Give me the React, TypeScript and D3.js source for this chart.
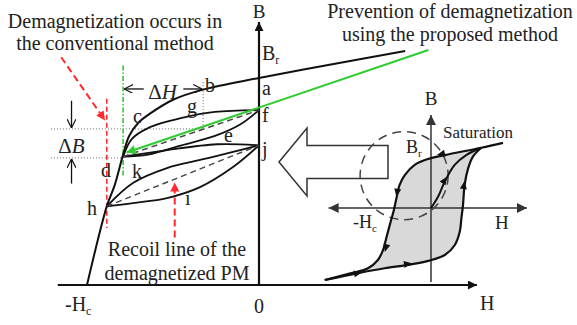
import * as d3 from "d3";

const WIDTH = 577;
const HEIGHT = 325;
const FONT = "'Liberation Serif', 'Times New Roman', serif";
const GREEN = "#2fcc2f";
const RED = "#ff2a2a";

// ---- main diagram, H in % of Hc, B in % of Br ----
const mainCurveH = [85, 45, 0, -32, -50, -63, -70, -75.5, -79, -84, -88.5, -100];
const mainCurveB = [113, 107, 100, 94.5, 89.5, 83, 78.5, 72, 63, 48, 38, 0];

// minor loop from the knee (c/d) to f
const loop1UpperH = [-79, -74, -64.5, -44.8, -25.6, 0];
const loop1UpperB = [62, 70.5, 75.8, 80.7, 83.6, 84.5];
const loop1LowerH = [-79, -64.5, -45, -25.6, -11, 0];
const loop1LowerB = [62, 63, 67.5, 72, 77.5, 84.5];
// knee to j
const kneeToJH = [-79, -53.5, -24.4, 0];
const kneeToJB = [62, 65.2, 68, 67.5];
// recoil loop of the demagnetized PM (h to j)
const loop2UpperH = [-88.5, -73.3, -53.5, -34.3, -15.1, 0];
const loop2UpperB = [38, 49.3, 56.5, 60.4, 64.3, 67.5];
const loop2LowerH = [-88.5, -73.3, -53.5, -34.3, -15.1, 0];
const loop2LowerB = [38, 39.6, 42, 47.3, 57, 67.5];

// proposed method recoil (green)
const greenH = [98.5, -77];
const greenB = [113.5, 64];

const pointLabels = [
  { t: "a", h: 1.7, b: 91.8 },
  { t: "b", h: -31.4, b: 93.2 },
  { t: "g", h: -41.9, b: 83.1 },
  { t: "c", h: -73.3, b: 78.3 },
  { t: "f", h: 1.7, b: 78.7 },
  { t: "e", h: -20.3, b: 69.1 },
  { t: "j", h: 1.7, b: 62.3 },
  { t: "d", h: -91.9, b: 52.2 },
  { t: "k", h: -73.8, b: 51.7 },
  { t: "h", h: -100, b: 33.8 },
  { t: "i", h: -43, b: 38.6 },
];

// ---- inset hysteresis loop, H in units of Hc, B in units of Br ----
const upperBranchH = [2.25, 1.57, 0.43, -0.09, -0.51, -0.82, -0.98, -1.08, -1.16, -1.29, -1.4, -1.5, -1.66, -1.97, -2.49, -3.32];
const upperBranchB = [1.33, 1.23, 1.08, 1.0, 0.88, 0.67, 0.47, 0.2, -0.04, -0.35, -0.62, -0.86, -1.06, -1.23, -1.33, -1.47];
const lowerBranchH = [-3.32, -2.28, -1.45, -0.62, -0.09, 0.43, 0.74, 0.9, 0.95, 1.0, 1.05, 1.16, 1.31, 1.57];
const lowerBranchB = [-1.47, -1.33, -1.23, -1.15, -1.08, -0.96, -0.76, -0.48, -0.21, 0.06, 0.47, 0.81, 1.05, 1.23];
const initialH = [0, 0.22, 0.43, 0.74, 1.1, 1.57];
const initialB = [0, 0.23, 0.54, 0.88, 1.08, 1.23];
const insetArrows = [
  { h: 0.31, b: 1.1, angle: 167 },
  { h: -1.06, b: 0.31, angle: 100 },
  { h: -1.41, b: -0.82, angle: 105 },
  { h: -2.28, b: -1.33, angle: -11 },
  { h: -0.72, b: -1.14, angle: -9 },
  { h: 1.03, b: 0.47, angle: -82 },
  { h: 0.43, b: 0.57, angle: -58 },
];

const xScale = d3.scaleLinear().domain([-100, 0]).range([87, 259]);
const yScale = d3.scaleLinear().domain([0, 100]).range([285, 78]);
const xi = d3.scaleLinear().domain([0, 1]).range([431, 463]);
const yi = d3.scaleLinear().domain([0, 1]).range([208, 159]);

type Pt = [number, number];
const zip = (hs: number[], bs: number[]): Pt[] => hs.map((h, i) => [h, bs[i]]);

const smooth = d3
  .line<Pt>()
  .x((d) => xScale(d[0]))
  .y((d) => yScale(d[1]))
  .curve(d3.curveCatmullRom.alpha(0.5));
const straight = d3
  .line<Pt>()
  .x((d) => xScale(d[0]))
  .y((d) => yScale(d[1]));
const insetLine = d3
  .line<Pt>()
  .x((d) => xi(d[0]))
  .y((d) => yi(d[1]))
  .curve(d3.curveCatmullRom.alpha(0.5));

function App() {
  const upper = zip(upperBranchH, upperBranchB);
  const lower = zip(lowerBranchH, lowerBranchB);
  const fillPts = [...upper.slice(1), ...lower.slice(1)];
  const loopDot = { stroke: "#666", strokeWidth: 1, strokeDasharray: "1,2" };

  // hollow arrow pointing at the main diagram
  const ax = { tip: 279, mid: 162, head: 307, end: 388, headHalf: 34, shaftHalf: 16.5 };
  const hollow = `M${ax.tip},${ax.mid} L${ax.head},${ax.mid - ax.headHalf} L${ax.head},${ax.mid - ax.shaftHalf} L${ax.end},${ax.mid - ax.shaftHalf} L${ax.end},${ax.mid + ax.shaftHalf} L${ax.head},${ax.mid + ax.shaftHalf} L${ax.head},${ax.mid + ax.headHalf} Z`;

  return (
    <svg
      width={WIDTH}
      height={HEIGHT}
      style={{ position: "absolute", left: 0, top: 0, background: "#fff" }}
      fontFamily={FONT}
    >
      <defs>
        <marker id="ah" viewBox="0 0 10 10" refX="10" refY="5" markerWidth="12" markerHeight="9" markerUnits="userSpaceOnUse" orient="auto">
          <path d="M0,0 L10,5 L0,10 z" fill="#111" />
        </marker>
        <marker id="ahRed" viewBox="0 0 10 10" refX="10" refY="5" markerWidth="12" markerHeight="9" markerUnits="userSpaceOnUse" orient="auto">
          <path d="M0,0 L10,5 L0,10 z" fill={RED} />
        </marker>
        <marker id="ahGreen" viewBox="0 0 10 10" refX="10" refY="5" markerWidth="13" markerHeight="9" markerUnits="userSpaceOnUse" orient="auto">
          <path d="M0,0 L10,5 L0,10 z" fill={GREEN} />
        </marker>
        <marker id="ahOpen" viewBox="0 0 10 10" refX="10" refY="5" markerWidth="9" markerHeight="9" markerUnits="userSpaceOnUse" orient="auto">
          <path d="M0,0 L10,5 L0,10" fill="none" stroke="#111" strokeWidth={1.3} />
        </marker>
        <marker id="ahGray" viewBox="0 0 10 10" refX="10" refY="5" markerWidth="13" markerHeight="10" markerUnits="userSpaceOnUse" orient="auto">
          <path d="M0,0 L10,5 L0,10 z" fill="#333" />
        </marker>
      </defs>

      {/* ---------- inset hysteresis loop ---------- */}
      <path d={hollow} fill="#fff" stroke="#333" strokeWidth={1.5} />
      <path d={insetLine(fillPts) + "Z"} fill="#d9d9d9" stroke="none" />
      <line x1={xi(0)} x2={xi(0)} y1={yi(-1.51)} y2={yi(1.9)} stroke="#333" strokeWidth={1.5} markerEnd="url(#ahGray)" />
      <line x1={xi(0)} x2={xi(-3.2)} y1={yi(0)} y2={yi(0)} stroke="#333" strokeWidth={1.5} markerEnd="url(#ahGray)" />
      <line x1={xi(0)} x2={xi(3.0)} y1={yi(0)} y2={yi(0)} stroke="#333" strokeWidth={1.5} markerEnd="url(#ahGray)" />
      <circle cx={xi(-0.84)} cy={yi(0.66)} r={44} fill="none" stroke="#444" strokeWidth={1.5} strokeDasharray="9,6" />
      <path d={insetLine(upper)!} fill="none" stroke="#111" strokeWidth={2.2} />
      <path d={insetLine(lower)!} fill="none" stroke="#111" strokeWidth={2.2} />
      <path d={insetLine(zip(initialH, initialB))!} fill="none" stroke="#111" strokeWidth={2} />
      {insetArrows.map((a, i) => (
        <path
          key={i}
          d="M4,0 L-4,-3.5 L-4,3.5 Z"
          fill="#111"
          transform={`translate(${xi(a.h)},${yi(a.b)}) rotate(${a.angle})`}
        />
      ))}
      <text x={xi(0)} y={105} fontSize={19} textAnchor="middle" fill="#222">B</text>
      <text x={443} y={138} fontSize={17} fill="#222">Saturation</text>
      <text x={406} y={153} fontSize={18} fill="#222">
        B<tspan fontSize={11} dy={4}>r</tspan>
      </text>
      <text x={353} y={228} fontSize={18} fill="#222">
        -H<tspan fontSize={11} dy={4}>c</tspan>
      </text>
      <text x={495} y={229} fontSize={19} fill="#222">H</text>

      {/* ---------- main axes ---------- */}
      <line x1={xScale(-117)} x2={xScale(126.7)} y1={yScale(0)} y2={yScale(0)} stroke="#111" strokeWidth={2.2} markerEnd="url(#ah)" />
      <line x1={xScale(0)} x2={xScale(0)} y1={yScale(0)} y2={yScale(127)} stroke="#111" strokeWidth={2.2} markerEnd="url(#ah)" />

      {/* guide lines */}
      <line x1={xScale(-121)} x2={xScale(-32.5)} y1={yScale(75.4)} y2={yScale(75.4)} {...loopDot} />
      <line x1={xScale(-121)} x2={xScale(-79)} y1={yScale(61.4)} y2={yScale(61.4)} {...loopDot} />
      <line x1={xScale(-32.5)} x2={xScale(-32.5)} y1={yScale(98)} y2={yScale(75.4)} {...loopDot} />
      <line x1={xScale(-79)} x2={xScale(-79)} y1={yScale(106)} y2={yScale(52)} stroke={GREEN} strokeWidth={1.6} strokeDasharray="5,2,1.5,2" />
      <line x1={xScale(-88.5)} x2={xScale(-88.5)} y1={yScale(90)} y2={yScale(27.5)} stroke={RED} strokeWidth={1.6} strokeDasharray="5,3" />

      {/* curves */}
      <path d={smooth(zip(mainCurveH, mainCurveB))!} fill="none" stroke="#111" strokeWidth={2} />
      <path d={smooth(zip(loop1UpperH, loop1UpperB))!} fill="none" stroke="#111" strokeWidth={1.8} />
      <path d={smooth(zip(loop1LowerH, loop1LowerB))!} fill="none" stroke="#111" strokeWidth={1.8} />
      <path d={smooth(zip(kneeToJH, kneeToJB))!} fill="none" stroke="#111" strokeWidth={1.8} />
      <path d={smooth(zip(loop2UpperH, loop2UpperB))!} fill="none" stroke="#111" strokeWidth={1.8} />
      <path d={smooth(zip(loop2LowerH, loop2LowerB))!} fill="none" stroke="#111" strokeWidth={1.8} />
      <path d={straight([[loop1UpperH[0], loop1UpperB[0]], [0, loop1UpperB[5]]])!} fill="none" stroke="#444" strokeWidth={1.4} strokeDasharray="6,4" />
      <path d={straight([[loop2UpperH[0], loop2UpperB[0]], [0, loop2UpperB[5]]])!} fill="none" stroke="#444" strokeWidth={1.4} strokeDasharray="6,4" />
      <path d={straight(zip(greenH, greenB))!} fill="none" stroke={GREEN} strokeWidth={2} markerEnd="url(#ahGreen)" />

      {/* red annotations */}
      <line x1={xScale(-115)} y1={yScale(110)} x2={xScale(-89.5)} y2={yScale(79.5)} stroke={RED} strokeWidth={2} strokeDasharray="7,4" markerEnd="url(#ahRed)" />
      <line x1={xScale(-49)} y1={yScale(23)} x2={xScale(-49)} y2={yScale(49.5)} stroke={RED} strokeWidth={2} strokeDasharray="7,4" markerEnd="url(#ahRed)" />

      {/* ΔH and ΔB */}
      <line x1={xScale(-67)} x2={xScale(-79) + 1} y1={yScale(94.7)} y2={yScale(94.7)} stroke="#111" strokeWidth={1.3} markerEnd="url(#ahOpen)" />
      <line x1={xScale(-44)} x2={xScale(-32.5) - 1} y1={yScale(94.7)} y2={yScale(94.7)} stroke="#111" strokeWidth={1.3} markerEnd="url(#ahOpen)" />
      <text x={xScale(-56)} y={99} fontSize={21} textAnchor="middle" fill="#222">
        Δ<tspan fontStyle="italic">H</tspan>
      </text>
      <line x1={xScale(-109)} x2={xScale(-109)} y1={yScale(89)} y2={yScale(75.4) - 1} stroke="#111" strokeWidth={1.3} markerEnd="url(#ahOpen)" />
      <line x1={xScale(-109)} x2={xScale(-109)} y1={yScale(49)} y2={yScale(61.4) + 1} stroke="#111" strokeWidth={1.3} markerEnd="url(#ahOpen)" />
      <text x={xScale(-109)} y={153} fontSize={21} textAnchor="middle" fill="#222">
        Δ<tspan fontStyle="italic">B</tspan>
      </text>

      {pointLabels.map((p) => (
        <text key={p.t} x={xScale(p.h)} y={yScale(p.b)} fontSize={20} fill="#222">
          {p.t}
        </text>
      ))}

      {/* axis labels */}
      <text x={xScale(0)} y={18} fontSize={19} textAnchor="middle" fill="#222">B</text>
      <text x={262} y={60} fontSize={20} fill="#222">
        B<tspan fontSize={12} dy={4}>r</tspan>
      </text>
      <text x={xScale(0)} y={313} fontSize={20} textAnchor="middle" fill="#222">0</text>
      <text x={65} y={311} fontSize={20} fill="#222">
        -H<tspan fontSize={12} dy={4}>c</tspan>
      </text>
      <text x={480} y={310} fontSize={20} fill="#222">H</text>

      {/* captions */}
      <text x={115} y={28} fontSize={20} textAnchor="middle" fill="#222">Demagnetization occurs in</text>
      <text x={115} y={50} fontSize={20} textAnchor="middle" fill="#222">the conventional method</text>
      <text x={450} y={18} fontSize={20} textAnchor="middle" fill="#222">Prevention of demagnetization</text>
      <text x={450} y={41} fontSize={20} textAnchor="middle" fill="#222">using the proposed method</text>
      <text x={177} y={256} fontSize={20} textAnchor="middle" fill="#222">Recoil line of the</text>
      <text x={177} y={280} fontSize={20} textAnchor="middle" fill="#222">demagnetized PM</text>
    </svg>
  );
}

export default App;
